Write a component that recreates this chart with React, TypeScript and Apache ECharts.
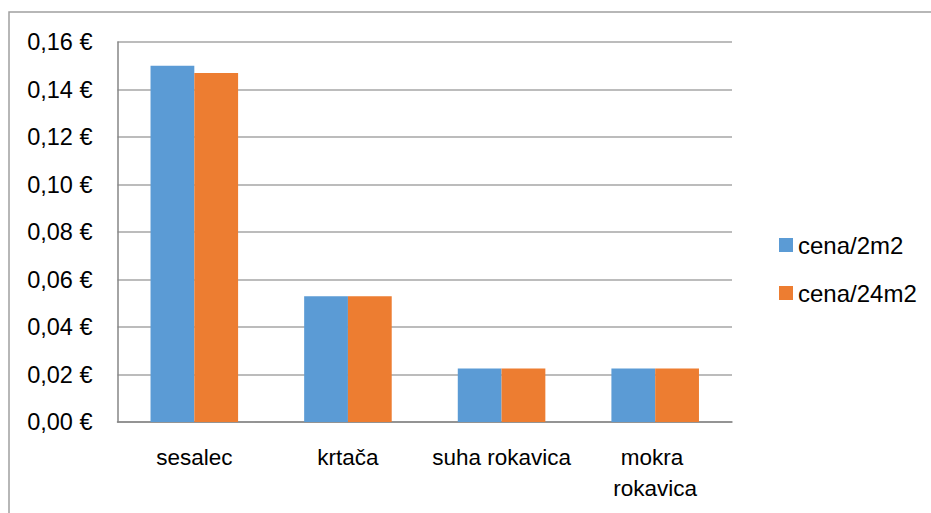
import React, { useEffect, useRef } from "react";
import * as echarts from "echarts";

const categories = ["sesalec", "krtača", "suha rokavica", "mokra rokavica"];
const seriesNames = ["cena/2m2", "cena/24m2"];
const cena2m2 = [0.15, 0.053, 0.0225, 0.0225];
const cena24m2 = [0.147, 0.053, 0.0225, 0.0225];
const colors = ["#5B9BD5", "#ED7D31"];

const FONT = "'Liberation Sans', Arial, sans-serif";

export default function App() {
  const ref = useRef<HTMLDivElement>(null);
  useEffect(() => {
    if (!ref.current) return;
    const chart = echarts.init(ref.current, undefined, { renderer: "svg" });
    chart.setOption({
      animation: false,
      backgroundColor: "#ffffff",
      textStyle: { fontFamily: FONT },
      graphic: [
        {
          type: "rect",
          shape: { x: 9, y: 12, width: 1000, height: 1000 },
          style: { fill: "none", stroke: "#a0a0a0", lineWidth: 1.5 },
          silent: true,
        },
      ],
      grid: { left: 117.5, top: 42, right: 199, bottom: 91, containLabel: false },
      legend: {
        orient: "vertical",
        left: 774,
        top: 228,
        itemWidth: 14,
        itemHeight: 14,
        itemGap: 24,
        icon: "rect",
        data: seriesNames,
        textStyle: { fontFamily: FONT, fontSize: 24, color: "#000", lineHeight: 24 },
      },
      xAxis: {
        type: "category",
        data: categories,
        axisLine: { lineStyle: { color: "#868686", width: 1.5 } },
        axisTick: { show: false },
        axisLabel: {
          color: "#000",
          fontFamily: FONT,
          fontSize: 22.5,
          lineHeight: 31,
          margin: 20,
          interval: 0,
          width: 148,
          overflow: "break",
        },
      },
      yAxis: {
        type: "value",
        min: 0,
        max: 0.16,
        interval: 0.02,
        axisLine: { show: true, lineStyle: { color: "#868686", width: 1.5 } },
        axisTick: { show: false },
        splitLine: { lineStyle: { color: "#a6a6a6", width: 1.5 } },
        axisLabel: {
          color: "#000",
          fontFamily: FONT,
          fontSize: 23.5,
          margin: 25,
          formatter: (v: number) => v.toFixed(2).replace(".", ",") + " €",
        },
      },
      series: [
        {
          name: seriesNames[0],
          type: "bar",
          data: cena2m2,
          itemStyle: { color: colors[0] },
          barGap: "0%",
          barCategoryGap: "43%",
        },
        {
          name: seriesNames[1],
          type: "bar",
          data: cena24m2,
          itemStyle: { color: colors[1] },
          barGap: "0%",
          barCategoryGap: "43%",
        },
      ],
    });
    return () => chart.dispose();
  }, []);
  return (
    <div
      ref={ref}
      style={{ position: "fixed", left: 0, top: 0, width: 931, height: 513 }}
    />
  );
}
